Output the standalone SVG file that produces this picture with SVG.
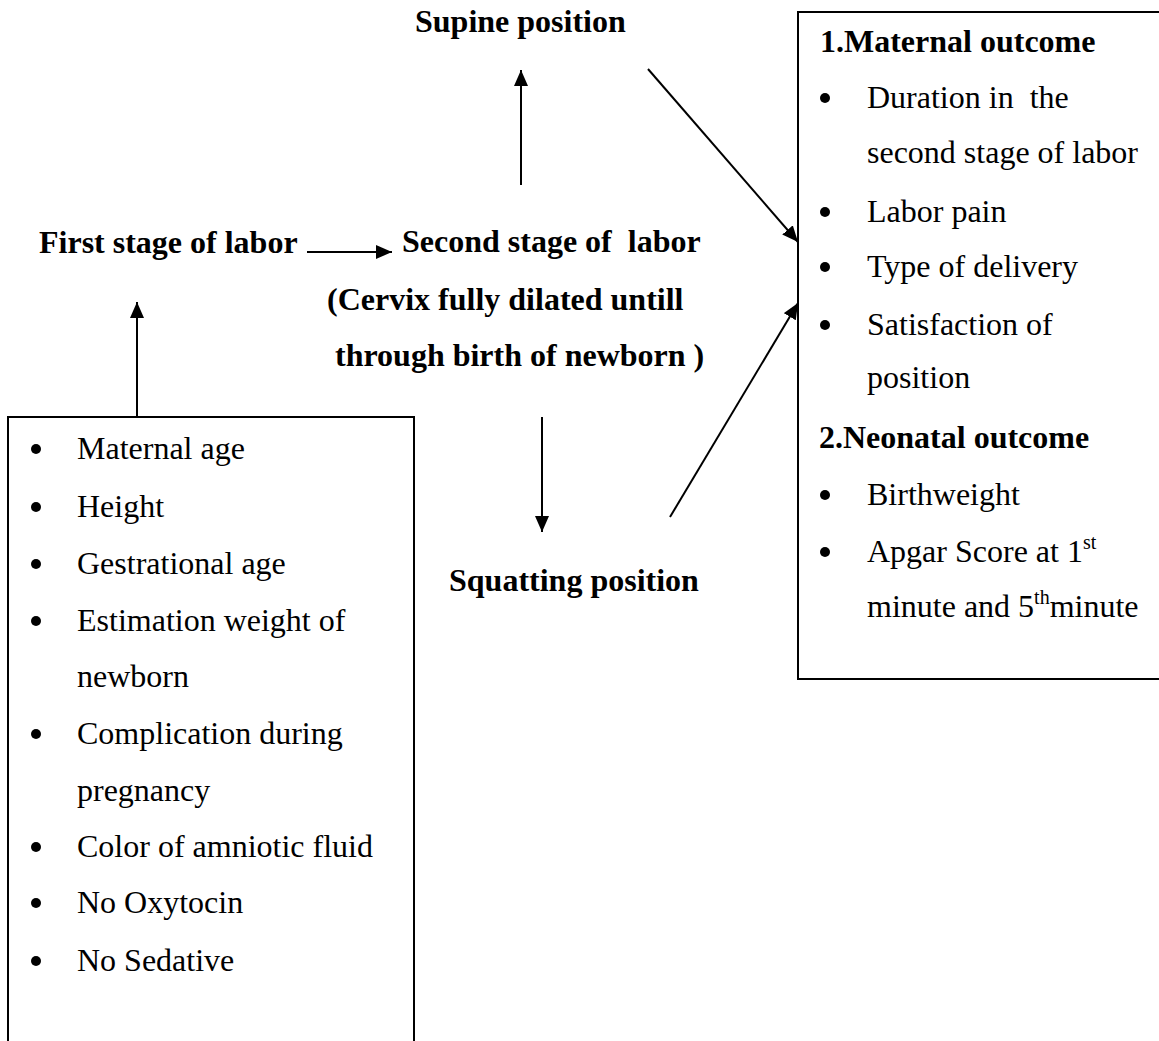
<svg xmlns="http://www.w3.org/2000/svg" width="1159" height="1041" viewBox="0 0 1159 1041">
<style>
.t{font-family:"Liberation Serif","Times New Roman",serif;font-size:32px;fill:#000}
.b{font-weight:bold}
.box{fill:none;stroke:#000;stroke-width:2}
.c{stroke:#000;stroke-width:2;fill:none}
.dot{fill:#000}
.sup{font-size:20px}
</style>
<defs>
<marker id="ah" markerUnits="userSpaceOnUse" markerWidth="16" markerHeight="14" refX="16" refY="7" orient="auto">
<path d="M0,0 L16,7 L0,14 Z" fill="#000"/>
</marker>
</defs>
<rect width="1159" height="1041" fill="#fff"/>
<g id="connectors">
<line class="c" x1="307" y1="252" x2="392" y2="252" marker-end="url(#ah)"/>
<line class="c" x1="137" y1="417" x2="137" y2="302" marker-end="url(#ah)"/>
<line class="c" x1="521" y1="185" x2="521" y2="70" marker-end="url(#ah)"/>
<line class="c" x1="542" y1="417" x2="542" y2="532" marker-end="url(#ah)"/>
<line class="c" x1="648" y1="69" x2="798" y2="242" marker-end="url(#ah)"/>
<line class="c" x1="670" y1="517" x2="798" y2="303" marker-end="url(#ah)"/>
</g>
<g id="supine">
<text class="t b" x="415" y="32">Supine position</text>
</g>
<g id="first-stage">
<text class="t b" x="39" y="253">First stage of labor</text>
</g>
<g id="second-stage">
<text class="t b" x="402" y="252" xml:space="preserve">Second stage of  labor</text>
<text class="t b" x="327" y="310">(Cervix fully dilated untill</text>
<text class="t b" x="335" y="366">through birth of newborn )</text>
</g>
<g id="squatting">
<text class="t b" x="449" y="591">Squatting position</text>
</g>
<g id="factors">
<rect class="box" x="8" y="417" width="406" height="660"/>
<circle class="dot" cx="36" cy="449" r="5"/>
<text class="t" x="77" y="459">Maternal age</text>
<circle class="dot" cx="36" cy="507" r="5"/>
<text class="t" x="77" y="517">Height</text>
<circle class="dot" cx="36" cy="564" r="5"/>
<text class="t" x="77" y="574">Gestrational age</text>
<circle class="dot" cx="36" cy="621" r="5"/>
<text class="t" x="77" y="631">Estimation weight of</text>
<text class="t" x="77" y="687">newborn</text>
<circle class="dot" cx="36" cy="734" r="5"/>
<text class="t" x="77" y="744">Complication during</text>
<text class="t" x="77" y="801">pregnancy</text>
<circle class="dot" cx="36" cy="847" r="5"/>
<text class="t" x="77" y="857">Color of amniotic fluid</text>
<circle class="dot" cx="36" cy="903" r="5"/>
<text class="t" x="77" y="913">No Oxytocin</text>
<circle class="dot" cx="36" cy="961" r="5"/>
<text class="t" x="77" y="971">No Sedative</text>
</g>
<g id="outcomes">
<rect class="box" x="798" y="12" width="380" height="667"/>
<text class="t b" x="820" y="52">1.Maternal outcome</text>
<circle class="dot" cx="825" cy="98" r="5"/>
<text class="t" x="867" y="108" xml:space="preserve">Duration in  the</text>
<text class="t" x="867" y="163">second stage of labor</text>
<circle class="dot" cx="825" cy="212" r="5"/>
<text class="t" x="867" y="222">Labor pain</text>
<circle class="dot" cx="825" cy="267" r="5"/>
<text class="t" x="867" y="277">Type of delivery</text>
<circle class="dot" cx="825" cy="325" r="5"/>
<text class="t" x="867" y="335">Satisfaction of</text>
<text class="t" x="867" y="388">position</text>
<text class="t b" x="819" y="448">2.Neonatal outcome</text>
<circle class="dot" cx="825" cy="495" r="5"/>
<text class="t" x="867" y="505">Birthweight</text>
<circle class="dot" cx="825" cy="552" r="5"/>
<text class="t" x="867" y="562">Apgar Score at 1<tspan class="sup" dy="-13">st</tspan></text>
<text class="t" x="867" y="617">minute and 5<tspan class="sup" dy="-13">th</tspan><tspan dy="13">minute</tspan></text>
</g>
</svg>
